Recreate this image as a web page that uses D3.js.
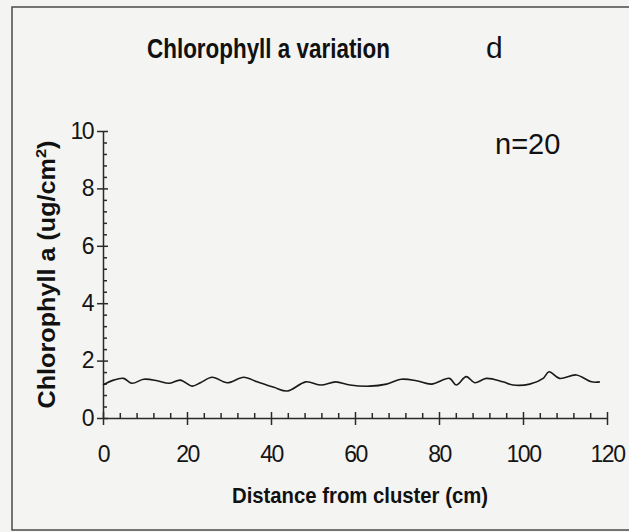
<!DOCTYPE html>
<html>
<head>
<meta charset="utf-8">
<script src="https://cdn.jsdelivr.net/npm/d3@7"></script>
<style>
  body { margin: 0; background: #f4f4f2; }
  svg { display: block; font-family: "Liberation Sans", Arial, sans-serif; }
  .axis path, .axis line { stroke: #2a2a2a; stroke-width: 1.5; }
</style>
</head>
<body>
<script>
const WIDTH = 629,
    HEIGHT = 532;

// distance from cluster (cm) and chlorophyll a (ug/cm2)
const distance = [0, 2.5, 4.9, 6.9, 9.7, 12.9, 15.7, 18.4, 21.2, 23.2, 26, 29.6, 33.5, 36.7, 40.7, 43.9,
    48.3, 51.9, 55.4, 58.8, 63.5, 67.5, 71, 74.6, 78.2, 82.5, 84.1, 86.5, 88.5, 91.3, 95.2, 97.6,
    101.6, 104.8, 106.2, 108.7, 112.7, 116.3, 118.3];
const chlorophyll = [1.15, 1.32, 1.38, 1.21, 1.35, 1.30, 1.21, 1.32, 1.11, 1.23, 1.42, 1.23, 1.42, 1.26, 1.07, 0.94,
    1.26, 1.15, 1.26, 1.15, 1.11, 1.18, 1.35, 1.30, 1.18, 1.38, 1.15, 1.44, 1.23, 1.38, 1.26, 1.15,
    1.18, 1.38, 1.61, 1.38, 1.50, 1.26, 1.26];
const xTicks = [0, 20, 40, 60, 80, 100, 120];
const yTicks = [0, 2, 4, 6, 8, 10];

const svg = d3.select("body").append("svg")
    .attr("width", WIDTH)
    .attr("height", HEIGHT);

// frame around the panel
svg.append("rect")
    .attr("x", 12).attr("y", 7)
    .attr("width", 640).attr("height", 523)
    .attr("fill", "none")
    .attr("stroke", "#4a4a4a")
    .attr("stroke-width", 1.5);

const x = d3.scaleLinear().domain([0, 120]).range([103, 607]);
const y = d3.scaleLinear().domain([0, 10]).range([418, 131]);

// x axis: minor ticks point up, majors cross the line
const xMinor = d3.range(0, 121, 4).filter(v => v % 20 !== 0);
svg.append("g")
    .attr("class", "axis")
    .attr("transform", `translate(0,${y(0)})`)
    .call(d3.axisBottom(x).tickValues(xMinor).tickSize(-5).tickFormat(""))
    .call(g => g.select(".domain").remove());

const gx = svg.append("g")
    .attr("class", "axis")
    .attr("transform", `translate(0,${y(0)})`)
    .call(d3.axisBottom(x).tickValues(xTicks).tickSize(7).tickSizeOuter(0).tickPadding(21));
gx.selectAll(".tick line").attr("y1", -6);
gx.selectAll(".tick text")
    .attr("letter-spacing", "-1.5px")
    .style("font-size", "23px")
    .style("fill", "#151515");

// y axis
const yMinor = d3.range(0, 10.01, 0.4).map(v => +v.toFixed(1)).filter(v => Math.abs(v / 2 - Math.round(v / 2)) > 0.01);
svg.append("g")
    .attr("class", "axis")
    .attr("transform", `translate(${x(0)},0)`)
    .call(d3.axisLeft(y).tickValues(yMinor).tickSize(-4).tickFormat(""))
    .call(g => g.select(".domain").remove());

const gy = svg.append("g")
    .attr("class", "axis")
    .attr("transform", `translate(${x(0)},0)`)
    .call(d3.axisLeft(y).tickValues(yTicks).tickSize(6).tickSizeOuter(0).tickPadding(4));
gy.selectAll(".tick line").attr("x2", 5).attr("x1", -6);
gy.selectAll(".tick text")
    .attr("letter-spacing", "-1.5px")
    .style("font-size", "23px")
    .style("fill", "#151515");

// the data line
const line = d3.line()
    .x((d, i) => x(distance[i]))
    .y(d => y(d))
    .curve(d3.curveCatmullRom);

svg.append("path")
    .datum(chlorophyll)
    .attr("d", line)
    .attr("fill", "none")
    .attr("stroke", "#1a1a1a")
    .attr("stroke-width", 1.6);

// titles
svg.append("text")
    .attr("x", 147).attr("y", 58)
    .attr("textLength", 243)
    .attr("lengthAdjust", "spacingAndGlyphs")
    .style("font-size", "28px")
    .style("font-weight", "bold")
    .style("fill", "#111")
    .text("Chlorophyll a variation");

svg.append("text")
    .attr("x", 486).attr("y", 58)
    .style("font-size", "30px")
    .style("fill", "#111")
    .text("d");

svg.append("text")
    .attr("x", 495).attr("y", 154)
    .style("font-size", "29px")
    .style("fill", "#111")
    .text("n=20");

svg.append("text")
    .attr("x", 232).attr("y", 503)
    .attr("textLength", 256)
    .attr("lengthAdjust", "spacingAndGlyphs")
    .style("font-size", "22px")
    .style("font-weight", "bold")
    .style("fill", "#111")
    .text("Distance from cluster (cm)");

svg.append("text")
    .attr("transform", `translate(55,${(y(0) + y(10)) / 2}) rotate(-90)`)
    .attr("text-anchor", "middle")
    .attr("textLength", 268)
    .attr("lengthAdjust", "spacingAndGlyphs")
    .style("font-size", "23px")
    .style("font-weight", "bold")
    .style("fill", "#111")
    .text("Chlorophyll a (ug/cm")
    .append("tspan")
    .attr("dy", -9)
    .style("font-size", "15px")
    .text("2")
    .select(function() { return this.parentNode; })
    .append("tspan")
    .attr("dy", 9)
    .text(")");
</script>
</body>
</html>
